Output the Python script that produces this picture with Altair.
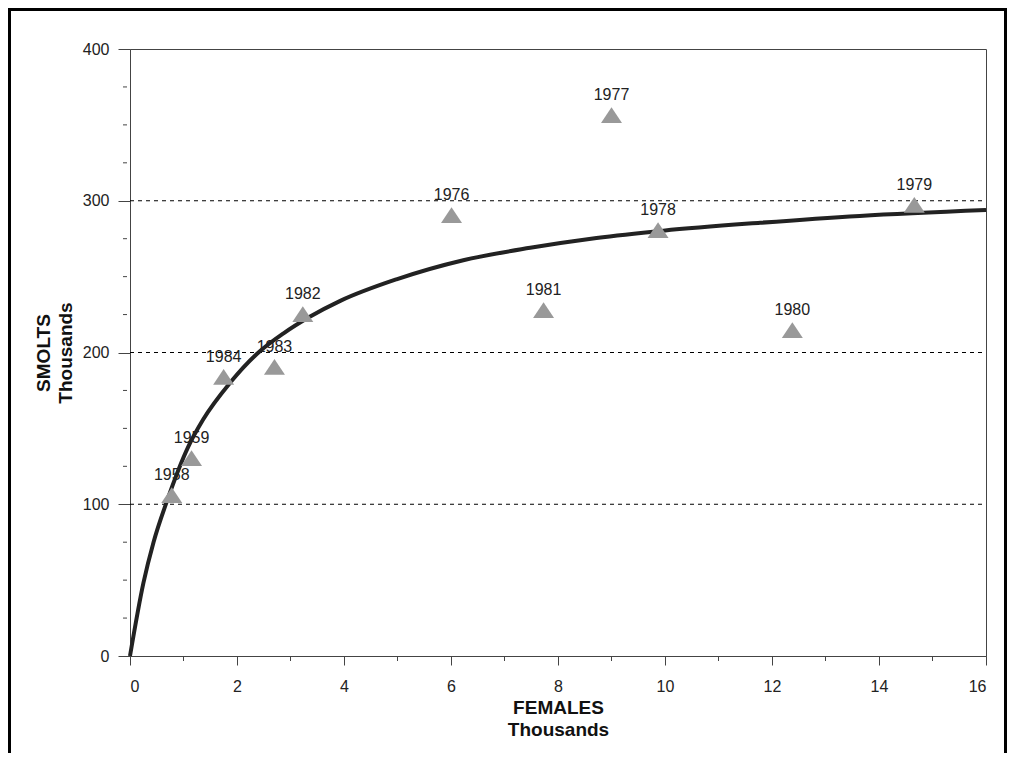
import altair as alt
import pandas as pd

# Observed stock-recruitment points
years = [1958, 1959, 1984, 1983, 1982, 1976, 1981, 1977, 1978, 1980, 1979]
females = [0.78, 1.15, 1.75, 2.70, 3.23, 6.01, 7.73, 9.00, 9.87, 12.38, 14.66]
smolts = [106, 130.4, 184, 190.6, 225.3, 290.6, 228, 356.5, 280.7, 214.8, 297.2]

# Fitted curve
curve_x = [0, 0.25, 0.44, 0.69, 1.09, 1.37, 1.87, 2.37, 2.87, 3.36, 3.93, 4.98,
           6.23, 7.48, 8.72, 9.97, 11.78, 13.64, 16.0]
curve_y = [0, 48, 75, 102, 138, 156, 180, 199, 212.6, 223.5, 234, 248.2,
           260.8, 269, 275.5, 280.3, 285.5, 290, 293.9]

# Axis decorations
x_major = [0, 2, 4, 6, 8, 10, 12, 14, 16]
x_minor = [1, 3, 5, 7, 9, 11, 13, 15]
y_major = [0, 100, 200, 300, 400]
y_minor = [25, 50, 75, 125, 150, 175, 225, 250, 275, 325, 350, 375]
grid_values = [100, 200, 300]

W, H = 856, 607
PAD_L, PAD_T, PAD_R, PAD_B = 122, 41, 21, 97
FONT = "Liberation Sans"

pts = pd.DataFrame({"year": [str(y) for y in years], "females": females, "smolts": smolts})
curve = pd.DataFrame({"x": curve_x, "y": curve_y})
xminor_df = pd.DataFrame({"v": x_minor})
yminor_df = pd.DataFrame({"v": y_minor})
grid_df = pd.DataFrame({"v": grid_values})

xscale = alt.Scale(domain=[0, 16], nice=False, zero=False)
yscale = alt.Scale(domain=[0, 400], nice=False, zero=False)

xaxis = alt.Axis(values=x_major, format="d", tickSize=9, labelPadding=13,
                 labelFontSize=16, labelColor="#222", labelFont=FONT,
                 domainColor="#444", tickColor="#444", grid=False,
                 title=["FEMALES", "Thousands"], titleFontSize=19, titleFont=FONT,
                 titleFontWeight="bold", titleColor="#111", titleX=W / 2, titleY=42,
                 titleBaseline="top", titleAlign="center", titleAngle=0,
                 titleLineHeight=22)
yaxis = alt.Axis(values=y_major, format="d", tickSize=12, labelPadding=9,
                 labelFontSize=16, labelColor="#222", labelFont=FONT,
                 domainColor="#444", tickColor="#444", grid=False,
                 title=["SMOLTS", "Thousands"], titleFontSize=19, titleFont=FONT,
                 titleFontWeight="bold", titleColor="#111", titleX=-96, titleY=H / 2,
                 titleBaseline="top", titleAlign="center", titleAngle=270,
                 titleLineHeight=22)

grid = alt.Chart(grid_df).mark_rule(color="black", strokeWidth=1, strokeDash=[4, 4]).encode(
    y=alt.Y("v:Q", scale=yscale, axis=yaxis),
    x=alt.value(0), x2=alt.value(W),
)

xminor = alt.Chart(xminor_df).mark_rule(color="#444", strokeWidth=1).encode(
    x=alt.X("v:Q", scale=xscale, axis=xaxis),
    y=alt.value(H), y2=alt.value(H + 5),
)
yminor = alt.Chart(yminor_df).mark_rule(color="#444", strokeWidth=1).encode(
    y=alt.Y("v:Q", scale=yscale),
    x=alt.value(-7), x2=alt.value(-3),
)

line = alt.Chart(curve).mark_line(color="#222", strokeWidth=4, interpolate="monotone").encode(
    x=alt.X("x:Q", scale=xscale),
    y=alt.Y("y:Q", scale=yscale),
)

tri = alt.Chart(pts).mark_point(
    shape="M0,-0.75L1,0.75L-1,0.75Z", filled=True, size=441, color="#999999", opacity=1
).encode(
    x=alt.X("females:Q", scale=xscale),
    y=alt.Y("smolts:Q", scale=yscale),
)

labels = alt.Chart(pts).mark_text(
    dy=-20, fontSize=16, font=FONT, color="#222", baseline="middle", align="center"
).encode(
    x=alt.X("females:Q", scale=xscale),
    y=alt.Y("smolts:Q", scale=yscale),
    text="year:N",
)

total_w = PAD_L + W + PAD_R
total_h = PAD_T + H + PAD_B
one = alt.Data(values=[{"a": 1}])
frame_left = alt.Chart(one).mark_rule(color="black", strokeWidth=3).encode(
    x=alt.value(1.5 - PAD_L), y=alt.value(-PAD_T), y2=alt.value(total_h - PAD_T))
frame_top = alt.Chart(one).mark_rule(color="black", strokeWidth=3).encode(
    x=alt.value(-PAD_L), x2=alt.value(total_w - PAD_L), y=alt.value(1.5 - PAD_T))
frame_right = alt.Chart(one).mark_rule(color="black", strokeWidth=3).encode(
    x=alt.value(total_w - 1.5 - PAD_L), y=alt.value(-PAD_T), y2=alt.value(total_h - PAD_T))

chart = alt.layer(grid, xminor, yminor, line, tri, labels,
                  frame_left, frame_top, frame_right).properties(
    width=W, height=H,
    autosize=alt.AutoSizeParams(type="none"),
    padding={"left": PAD_L, "top": PAD_T, "right": PAD_R, "bottom": PAD_B},
    background="white",
).configure_view(stroke="#444", strokeWidth=1)

chart.save("out.html", embed_options={"renderer": "svg", "actions": False})
